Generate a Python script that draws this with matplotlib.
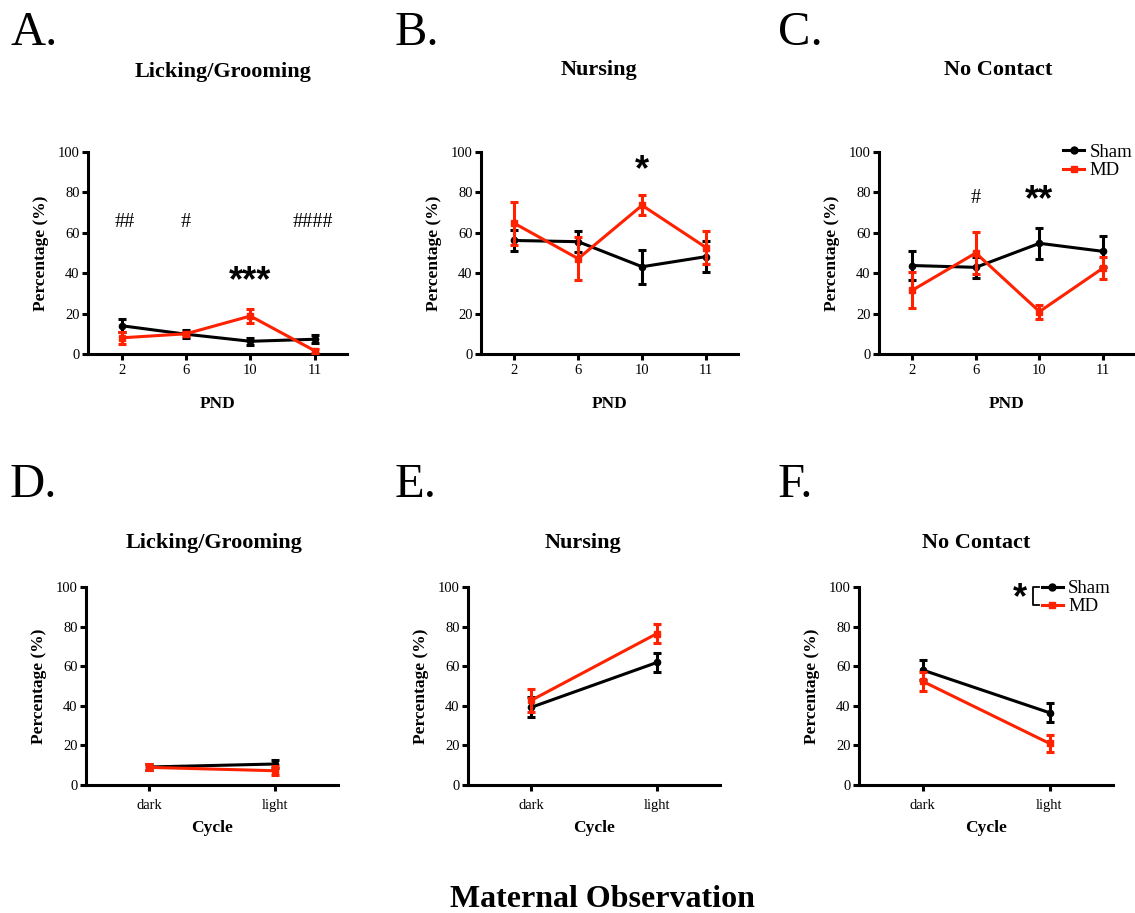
import matplotlib
matplotlib.use("Agg")
import matplotlib.pyplot as plt
from matplotlib.lines import Line2D

plt.rcParams['font.family'] = ['Liberation Serif', 'DejaVu Serif']
plt.rcParams['axes.linewidth'] = 2.2

RED = '#FF2200'
BLACK = '#000000'

# Top row: postnatal days
pnd_labels = ['2', '6', '10', '11']

lg_sham = [14, 9.8, 6.3, 7.3]
lg_sham_err = [3.3, 2, 1.8, 2]
lg_md = [8, 10, 18.8, 1.6]
lg_md_err = [3, 1, 3.3, 1]

nu_sham = [56.2, 55.6, 43.2, 48.2]
nu_sham_err = [5.2, 5.3, 8.3, 7.5]
nu_md = [64.7, 47.2, 73.6, 52.7]
nu_md_err = [10.7, 10.8, 5, 8.2]

nc_sham = [43.8, 42.9, 54.8, 50.8]
nc_sham_err = [7.3, 5.2, 7.7, 7.6]
nc_md = [31.5, 50, 21, 42.6]
nc_md_err = [8.9, 10.5, 3.5, 5.3]

# Bottom row: light/dark cycle
cycle_labels = ['dark', 'light']

lgc_sham = [9.1, 10.6]
lgc_sham_err = [1.5, 2]
lgc_md = [8.9, 7.2]
lgc_md_err = [1.5, 2.2]

nuc_sham = [39.2, 61.9]
nuc_sham_err = [5, 4.7]
nuc_md = [42.7, 76.5]
nuc_md_err = [5.8, 4.7]

ncc_sham = [58.1, 36.5]
ncc_sham_err = [4.9, 4.8]
ncc_md = [52.4, 21]
ncc_md_err = [4.8, 4.5]

W, H = 1135, 913
fig = plt.figure(figsize=(W / 100, H / 100), dpi=100)


def px_rect(left, right, top, bottom):
    return [left / W, 1 - bottom / H, (right - left) / W, (bottom - top) / H]


def draw_panel(rect, labels, sham, sham_err, md, md_err, xlabel, xlim, xtick_pad, xlabel_pad):
    ax = fig.add_axes(rect)
    x = list(range(len(labels)))
    ax.errorbar(x, sham, yerr=sham_err, color=BLACK, lw=2.2, marker='o', ms=4.5,
                capsize=3.2, capthick=2.2, elinewidth=2.2, zorder=3)
    ax.errorbar(x, md, yerr=md_err, color=RED, lw=2.2, marker='s', ms=4,
                capsize=3.2, capthick=2.2, elinewidth=2.2, zorder=4)
    ax.set_ylim(0, 100)
    ax.set_xlim(*xlim)
    ax.set_yticks([0, 20, 40, 60, 80, 100])
    ax.set_xticks(x)
    ax.set_xticklabels(labels)
    ax.spines['top'].set_visible(False)
    ax.spines['right'].set_visible(False)
    ax.tick_params(axis='y', direction='out', length=4, width=2.2, pad=2, labelsize=10.5)
    ax.tick_params(axis='x', direction='out', length=4, width=2.2, pad=xtick_pad, labelsize=10.5)
    ax.set_ylabel('Percentage (%)', fontsize=12.5, fontweight='bold', labelpad=6)
    ax.set_xlabel(xlabel, fontsize=12.5, fontweight='bold', labelpad=xlabel_pad)
    return ax


def legend(ax, anchor):
    handles = [Line2D([], [], color=BLACK, lw=2.2, marker='o', ms=5),
               Line2D([], [], color=RED, lw=2.2, marker='s', ms=4.5)]
    ax.legend(handles, ['Sham', 'MD'], loc='upper left', bbox_to_anchor=anchor,
              frameon=False, fontsize=13.5, handlelength=1.1, handletextpad=0.3,
              labelspacing=0.05, borderpad=0, borderaxespad=0)


top_xlim = (-0.52, 3.5)
bot_xlim = (-0.5, 1.5)

axA = draw_panel(px_rect(88, 347, 152, 354), pnd_labels, lg_sham, lg_sham_err,
                 lg_md, lg_md_err, 'PND', top_xlim, 3, 14)
axB = draw_panel(px_rect(481, 738, 152, 354), pnd_labels, nu_sham, nu_sham_err,
                 nu_md, nu_md_err, 'PND', top_xlim, 3, 14)
axC = draw_panel(px_rect(879, 1135, 152, 354), pnd_labels, nc_sham, nc_sham_err,
                 nc_md, nc_md_err, 'PND', top_xlim, 3, 14)
axD = draw_panel(px_rect(86, 338, 587, 785), cycle_labels, lgc_sham, lgc_sham_err,
                 lgc_md, lgc_md_err, 'Cycle', bot_xlim, 6, 6)
axE = draw_panel(px_rect(468, 720, 587, 785), cycle_labels, nuc_sham, nuc_sham_err,
                 nuc_md, nuc_md_err, 'Cycle', bot_xlim, 6, 6)
axF = draw_panel(px_rect(859, 1113, 587, 785), cycle_labels, ncc_sham, ncc_sham_err,
                 ncc_md, ncc_md_err, 'Cycle', bot_xlim, 6, 6)

legend(axC, (0.72, 1.04))
legend(axF, (0.72, 1.035))

# significance marks
hash_kw = dict(ha='center', va='center', fontsize=14.5)
star_kw = dict(ha='center', va='center', fontsize=26, fontweight='bold',
               family='Liberation Sans')
axA.text(0.05, 65, '##', **hash_kw)
axA.text(1, 65, '#', **hash_kw)
axA.text(2.97, 65, '####', **hash_kw)
axA.text(2, 36, '***', **star_kw)
axB.text(2, 91, '*', **star_kw)
axC.text(1, 77, '#', **hash_kw)
axC.text(2, 76, '**', **star_kw)

# group-effect bracket beside the legend in F
bx, by0, by1 = 0.685, 0.91, 1.0
axF.plot([bx + 0.025, bx, bx, bx + 0.025], [by1, by1, by0, by0], color=BLACK,
         lw=1.3, transform=axF.transAxes, clip_on=False)
axF.text(0.635, 0.94, '*', transform=axF.transAxes, **star_kw)

# panel titles and letters
titles = [('Licking/Grooming', 223, 72), ('Nursing', 599, 70), ('No Contact', 998, 70),
          ('Licking/Grooming', 214, 543), ('Nursing', 583, 543), ('No Contact', 976, 543)]
for t, x, y in titles:
    fig.text(x / W, 1 - y / H, t, ha='center', va='center', fontsize=16, fontweight='bold')

letters = [('A.', 10, 45), ('B.', 395, 45), ('C.', 778, 45),
           ('D.', 10, 497), ('E.', 395, 497), ('F.', 778, 497)]
for t, x, y in letters:
    fig.text(x / W, 1 - y / H, t, ha='left', va='baseline', fontsize=35)

fig.text(602 / W, 1 - 907 / H, 'Maternal Observation', ha='center', va='baseline',
         fontsize=23, fontweight='bold')

fig.savefig('out.png', dpi=100, facecolor='white')
